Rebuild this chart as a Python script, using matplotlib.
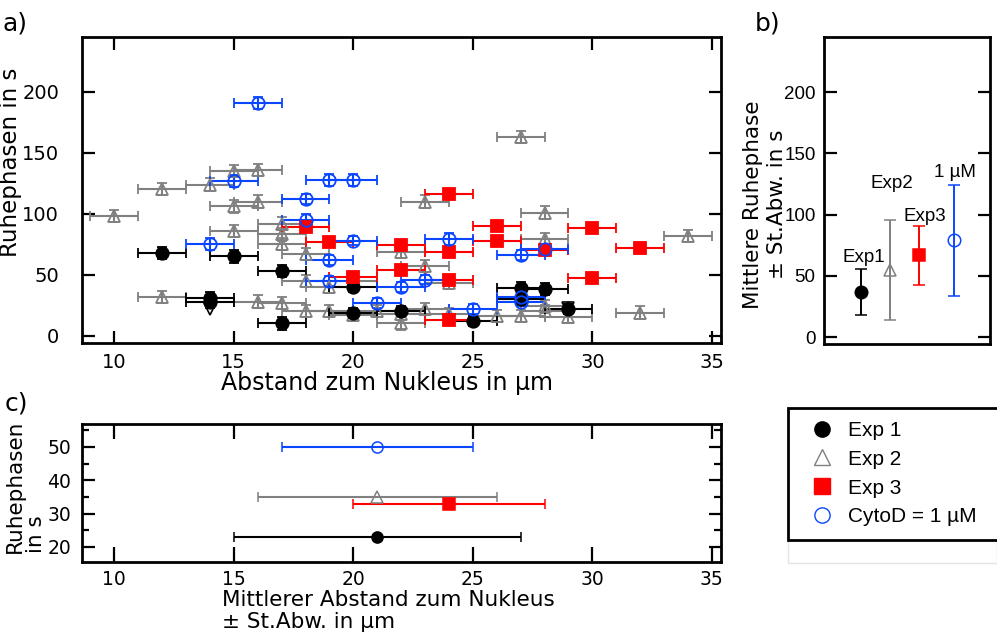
import matplotlib
matplotlib.use("Agg")
import matplotlib.pyplot as plt
from matplotlib.patches import Rectangle
from matplotlib.lines import Line2D
from matplotlib.ticker import MultipleLocator

# ---------------------------------------------------------------
# a) single rest phases: distance to nucleus (um) vs duration (s)
# ---------------------------------------------------------------
exp1_x = [12, 15, 17, 14, 14, 17, 20, 20, 22, 25, 27, 28, 27, 29]
exp1_y = [68, 65, 53, 31, 28, 10, 40, 19, 20, 12, 39, 38, 30, 22]
exp1_yerr = [5, 5, 5, 5, 5, 5, 4, 4, 4, 4, 5, 5, 4, 4]

exp2_x = [10, 12, 14, 15, 16, 15, 16, 15, 17, 17, 17, 18, 18, 12, 16, 17, 18, 19,
          23, 28, 34, 28, 22, 23, 24, 20, 32, 20, 21, 22, 22, 23, 24, 26, 27, 28,
          28, 29, 27, 19]
exp2_y = [98, 120, 124, 135, 136, 106, 110, 86, 92, 83, 75, 67, 45, 32, 28, 27, 20, 20,
          110, 101, 82, 79, 69, 57, 43, 45, 19, 17, 20, 18, 10, 22, 18, 16, 16, 20,
          24, 15, 163, 40]
exp2_yerr = [5] * 40

exp3_x = [18, 19, 24, 26, 30, 26, 22, 24, 28, 32, 22, 20, 24, 30, 24]
exp3_y = [89, 77, 116, 90, 88, 78, 74, 69, 70, 72, 54, 48, 46, 47, 13]
exp3_yerr = [3] * 15

cyto_x = [16, 15, 18, 19, 20, 18, 14, 19, 19, 20, 24, 27, 28, 23, 22, 21, 25, 27, 27]
cyto_y = [191, 127, 112, 128, 128, 95, 75, 62, 45, 78, 79, 66, 71, 46, 40, 27, 22, 32, 28]
cyto_yerr = [5, 5, 4, 5, 5, 5, 5, 4, 4, 4, 5, 4, 4, 4, 4, 4, 4, 4, 4]

# open down triangles (lower limit markers)
low_x = [14, 24, 29]
low_y = [22, 13, 23]

# ---------------------------------------------------------------
# b) mean rest phase +- SD
# ---------------------------------------------------------------
b_labels = ["Exp1", "Exp2", "Exp3", "1 µM"]
b_pos = [1, 2, 3, 4.2]
b_mean = [37, 55, 67, 79]
b_sd = [19, 41, 24, 45]
b_label_off = [(2, 8), (1, 26), (4, 7), (1, 9)]  # points, label centre vs bar top

# ---------------------------------------------------------------
# c) mean distance +- SD
# ---------------------------------------------------------------
c_x = [21, 21, 24, 21]
c_xsd = [6, 5, 4, 4]
c_y = [23, 35, 33, 50]

names = ["Exp 1", "Exp 2", "Exp 3", "CytoD = 1 µM"]
colors = ["black", "#808080", "#ff0000", "#0a46ff"]
markers = ["o", "^", "s", "o"]
filled = [True, False, True, False]

W, H = 997, 637
fig = plt.figure(figsize=(W / 100, H / 100), dpi=100)


def frac(l, t, r, b):
    return [l / W, 1 - b / H, (r - l) / W, (b - t) / H]


def style(ax, size=14, family="DejaVu Sans"):
    for s in ax.spines.values():
        s.set_linewidth(2)
    ax.tick_params(direction="in", length=9, width=1.6, top=True, right=True,
                   labelsize=size, pad=6)
    for lab in ax.get_xticklabels() + ax.get_yticklabels():
        lab.set_family(family)


# ---------------- panel a ----------------
ax_a = fig.add_axes(frac(82, 37, 721, 343))
xerr_a = 1
series = [(exp2_x, exp2_y, exp2_yerr, 1), (exp1_x, exp1_y, exp1_yerr, 0),
          (exp3_x, exp3_y, exp3_yerr, 2), (cyto_x, cyto_y, cyto_yerr, 3)]
for xs, ys, ye, k in series:
    ax_a.errorbar(xs, ys, xerr=[xerr_a] * len(xs), yerr=ye, fmt=markers[k],
                  color=colors[k], mec=colors[k],
                  mfc=colors[k] if filled[k] else "none",
                  ms=9, mew=1.3, elinewidth=1.5, capsize=3.5, capthick=1.5)
ax_a.plot(low_x, low_y, "v", mfc="none", mec="black", ms=9, mew=1.2)
ax_a.set_xlim(8.65, 35.38)
ax_a.set_ylim(-6, 245)
ax_a.xaxis.set_major_locator(MultipleLocator(5))
ax_a.set_yticks([0, 50, 100, 150, 200])
style(ax_a)
ax_a.tick_params(axis="y", pad=16.5)
ax_a.tick_params(axis="x", pad=7)
ax_a.set_xlabel("Abstand zum Nukleus in µm", fontsize=17)
ax_a.xaxis.set_label_coords(0.477, -0.09)
ax_a.set_ylabel("Ruhephasen in s", fontsize=16.5)
ax_a.yaxis.set_label_coords(-0.094, 0.59)

# ---------------- panel b ----------------
ax_b = fig.add_axes(frac(824, 37, 990, 344))
for k in range(4):
    ax_b.errorbar(b_pos[k], b_mean[k], yerr=b_sd[k], fmt=markers[k],
                  color=colors[k], mec=colors[k],
                  mfc=colors[k] if filled[k] else "none",
                  ms=9, mew=1.1, elinewidth=1.4, capsize=4, capthick=1.4)
    ax_b.annotate(b_labels[k], (b_pos[k], b_mean[k] + b_sd[k]),
                  xytext=b_label_off[k], textcoords="offset points", ha="center",
                  va="center", fontsize=13.5, family="Liberation Sans")
ax_b.set_xlim(-0.28, 5.45)
ax_b.set_ylim(-5.5, 245)
ax_b.set_yticks([0, 50, 100, 150, 200])
style(ax_b, size=13.5, family="Liberation Sans")
ax_b.tick_params(axis="x", bottom=False, top=False, labelbottom=False)
ax_b.set_ylabel("Mittlere Ruhephase\n± St.Abw. in s", fontsize=15.5)
ax_b.yaxis.set_label_coords(-0.225, 0.455)

# ---------------- panel c ----------------
ax_c = fig.add_axes(frac(82, 424, 721, 562))
for k in range(4):
    ax_c.errorbar(c_x[k], c_y[k], xerr=c_xsd[k], fmt=markers[k],
                  color=colors[k], mec=colors[k],
                  mfc=colors[k] if filled[k] else "none",
                  ms=8, mew=1.1, elinewidth=1.5, capsize=3.5, capthick=1.5)
ax_c.set_xlim(8.65, 35.38)
ax_c.set_ylim(15.5, 56.9)
ax_c.xaxis.set_major_locator(MultipleLocator(5))
ax_c.yaxis.set_major_locator(MultipleLocator(10))
ax_c.yaxis.set_minor_locator(MultipleLocator(5))
style(ax_c, size=13.5)
ax_c.tick_params(axis="x", length=11)
ax_c.tick_params(axis="y", pad=8)
ax_c.tick_params(which="minor", direction="in", length=5, width=1.6, right=True)
fig.text(46 / W, 1 - 553 / H, "Ruhephasen\nin s", rotation=90, fontsize=15.5,
         ha="right", va="bottom", multialignment="left", linespacing=1.05)
fig.text(222 / W, 1 - 590 / H, "Mittlerer Abstand zum Nukleus\n± St.Abw. in µm",
         fontsize=15.5, ha="left", va="top", multialignment="left", linespacing=1.1)

# ---------------- panel letters ----------------
fig.text(2 / W, 1 - 30 / H, "a)", fontsize=18)
fig.text(755 / W, 1 - 30 / H, "b)", fontsize=18)
fig.text(5 / W, 1 - 410 / H, "c)", fontsize=18)

# ---------------- legend ----------------
fig.patches.append(Rectangle((788 / W, 1 - 563 / H), (W - 788) / W, 23 / H,
                             transform=fig.transFigure, fill=False,
                             ec="#e4e4e4", lw=1))
fig.patches.append(Rectangle((788 / W, 1 - 540 / H), (W - 786) / W, 132 / H,
                             transform=fig.transFigure, fc="white",
                             ec="black", lw=2))
handles = [Line2D([], [], ls="none", marker=markers[k], color=colors[k],
                  mec=colors[k], mfc=colors[k] if filled[k] else "none",
                  ms=11 if k != 1 else 12, mew=1.0)
           for k in range(4)]
fig.legend(handles, names, loc="upper left",
           bbox_to_anchor=(809 / W, 1 - 421 / H), frameon=False,
           prop={"family": "Liberation Sans", "size": 15},
           handlelength=1.2, handletextpad=0.65, labelspacing=0.47,
           borderpad=0, borderaxespad=0)

fig.savefig("out.png", dpi=100)
